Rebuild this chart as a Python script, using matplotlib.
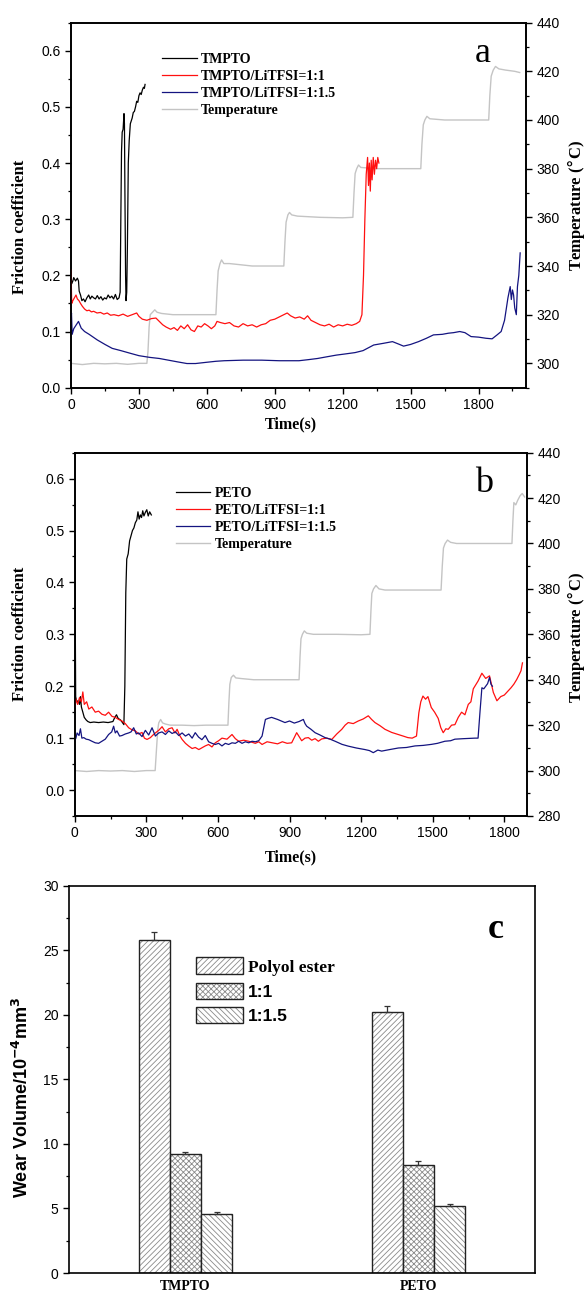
import numpy as np
import matplotlib
matplotlib.use('Agg')
import matplotlib.pyplot as plt
from matplotlib.patches import Patch
from matplotlib.ticker import MultipleLocator

SERIF = 'Liberation Serif'
SANS = 'Liberation Sans'

# ---- panel a: TMPTO series (time s, friction coefficient) ----
a_tmpto_t = [0, 3, 8, 12, 20, 28, 33, 36, 42, 48, 55, 62, 70, 78, 85, 92, 100, 108, 116, 124,
             132, 140, 148, 156, 164, 172, 180, 188, 196, 204, 212, 217, 220, 223, 226, 230,
             234, 236, 238, 241, 243, 246, 249, 253, 257, 262, 266, 270, 275, 280, 285, 290,
             295, 300, 305, 310, 315, 320, 324, 327]
a_tmpto_f = [0.20, 0.185, 0.19, 0.196, 0.19, 0.195, 0.19, 0.172, 0.165, 0.155, 0.158, 0.153,
             0.16, 0.165, 0.158, 0.163, 0.16, 0.158, 0.164, 0.158, 0.162, 0.156, 0.16, 0.158,
             0.165, 0.16, 0.163, 0.158, 0.166, 0.157, 0.16, 0.17, 0.30, 0.42, 0.455, 0.46,
             0.488, 0.47, 0.35, 0.20, 0.155, 0.17, 0.25, 0.40, 0.44, 0.47, 0.475, 0.48, 0.49,
             0.492, 0.50, 0.51, 0.508, 0.52, 0.525, 0.522, 0.53, 0.535, 0.533, 0.54]

a_li11_t = [0, 3, 8, 15, 22, 28, 35, 42, 50, 60, 70, 80, 90, 100, 115, 130, 145, 160, 175, 190,
            210, 230, 250, 270, 290, 300, 315, 335, 355, 375, 390, 405, 420, 440, 455, 470, 485,
            500, 515, 530, 545, 560, 575, 590, 605, 620, 635, 645, 660, 680, 700, 720, 740, 760,
            780, 800, 820, 840, 860, 880, 900, 920, 940, 955, 970, 990, 1010, 1030, 1045, 1060,
            1080, 1100, 1120, 1140, 1160, 1180, 1200, 1220, 1240, 1260, 1275, 1285, 1292, 1298,
            1304, 1310, 1314, 1318, 1322, 1326, 1330, 1335, 1340, 1345, 1350, 1355, 1360]
a_li11_f = [0.21, 0.15, 0.155, 0.16, 0.165, 0.158, 0.155, 0.15, 0.145, 0.14, 0.137, 0.138, 0.135,
            0.136, 0.133, 0.134, 0.131, 0.133, 0.129, 0.13, 0.128, 0.131, 0.127, 0.13, 0.133,
            0.127, 0.122, 0.12, 0.123, 0.124, 0.118, 0.112, 0.108, 0.104, 0.107, 0.102, 0.11,
            0.105, 0.112, 0.103, 0.10, 0.11, 0.108, 0.114, 0.11, 0.105, 0.11, 0.118, 0.116,
            0.114, 0.116, 0.11, 0.108, 0.114, 0.11, 0.112, 0.108, 0.112, 0.114, 0.12, 0.122,
            0.126, 0.13, 0.133, 0.128, 0.124, 0.126, 0.122, 0.128, 0.12, 0.116, 0.112, 0.11,
            0.113, 0.108, 0.112, 0.11, 0.113, 0.111, 0.114, 0.118, 0.13, 0.20, 0.30, 0.38, 0.41,
            0.36, 0.40, 0.35, 0.405, 0.37, 0.41, 0.38, 0.405, 0.39, 0.41, 0.40]

a_li115_t = [0, 2, 5, 12, 20, 33, 45, 60, 80, 116, 150, 182, 220, 264, 300, 347, 390, 430, 470,
             512, 550, 594, 640, 677, 760, 842, 920, 1007, 1050, 1089, 1130, 1172, 1210, 1255,
             1290, 1337, 1380, 1420, 1445, 1469, 1500, 1535, 1570, 1601, 1640, 1667, 1690, 1717,
             1740, 1767, 1800, 1833, 1860, 1882, 1900, 1915, 1930, 1940, 1945, 1950, 1955, 1960,
             1967, 1972, 1978, 1984]
a_li115_f = [0.12, 0.133, 0.095, 0.105, 0.11, 0.118, 0.106, 0.10, 0.095, 0.085, 0.077, 0.07,
             0.066, 0.061, 0.057, 0.054, 0.052, 0.049, 0.046, 0.043, 0.043, 0.045, 0.047, 0.048,
             0.049, 0.049, 0.048, 0.048, 0.05, 0.052, 0.055, 0.058, 0.06, 0.0625, 0.066, 0.076,
             0.079, 0.082, 0.078, 0.074, 0.077, 0.082, 0.088, 0.094, 0.095, 0.097, 0.098, 0.10,
             0.098, 0.091, 0.09, 0.088, 0.087, 0.094, 0.10, 0.12, 0.16, 0.18, 0.157, 0.174,
             0.165, 0.142, 0.13, 0.18, 0.20, 0.24]

a_temp_t = [0, 50, 100, 150, 200, 250, 300, 335, 340, 345, 350, 360, 370, 380, 400, 450, 500,
            550, 600, 640, 645, 650, 658, 665, 675, 700, 750, 800, 850, 900, 940, 945, 950, 958,
            965, 975, 1000, 1100, 1200, 1245, 1250, 1255, 1262, 1270, 1280, 1350, 1450, 1545,
            1550, 1556, 1563, 1572, 1585, 1650, 1750, 1845, 1850, 1856, 1865, 1875, 1890, 1920,
            1960, 1982]
a_temp_T = [300, 299.5, 300, 299.8, 300, 299.6, 300, 300, 305, 315, 320, 321, 322, 321, 320.5,
            320, 320, 320, 320, 320, 330, 338, 341, 342.5, 341, 341, 340.5, 340, 340, 340, 340,
            350, 358, 361, 362, 361, 360.5, 360, 359.8, 360, 370, 378, 380, 381.5, 380.5, 380,
            380, 380, 390, 398, 400, 401.5, 400.5, 400, 400, 400, 410, 418, 420.5, 422, 421,
            420.5, 420, 419.5]

# ---- panel b: PETO series ----
b_peto_t = [0, 2, 4, 8, 14, 20, 24, 28, 34, 40, 48, 55, 65, 80, 100, 120, 140, 160, 168, 175,
            182, 192, 200, 206, 210, 214, 218, 224, 230, 236, 242, 248, 254, 260, 265, 270, 275,
            280, 285, 290, 296, 302, 308, 314, 321]
b_peto_f = [0.49, 0.35, 0.18, 0.17, 0.172, 0.165, 0.18, 0.16, 0.15, 0.14, 0.135, 0.132, 0.13,
            0.131, 0.13, 0.131, 0.13, 0.132, 0.14, 0.145, 0.138, 0.135, 0.13, 0.126, 0.20, 0.38,
            0.445, 0.455, 0.48, 0.49, 0.50, 0.505, 0.515, 0.52, 0.536, 0.522, 0.53, 0.525, 0.538,
            0.528, 0.535, 0.54, 0.528, 0.536, 0.53]

b_li11_t = [0, 5, 12, 20, 28, 34, 40, 50, 59, 72, 86, 100, 114, 128, 142, 156, 170, 184, 198,
            212, 226, 240, 254, 268, 282, 292, 303, 317, 328, 338, 352, 366, 380, 394, 408, 420,
            429, 440, 450, 464, 478, 492, 505, 520, 533, 547, 561, 575, 589, 603, 617, 638, 659,
            673, 687, 708, 729, 743, 757, 771, 785, 806, 827, 850, 870, 890, 909, 930, 951, 965,
            979, 993, 1007, 1021, 1035, 1056, 1077, 1098, 1119, 1133, 1146, 1167, 1188, 1209,
            1230, 1244, 1258, 1279, 1300, 1328, 1356, 1376, 1396, 1414, 1432, 1442, 1450, 1459,
            1470, 1480, 1494, 1508, 1523, 1534, 1544, 1555, 1565, 1579, 1593, 1607, 1621, 1635,
            1649, 1660, 1670, 1690, 1706, 1722, 1738, 1754, 1769, 1785, 1800, 1816, 1828, 1840,
            1852, 1863, 1870, 1876]
b_li11_f = [0.16, 0.175, 0.165, 0.178, 0.17, 0.189, 0.165, 0.17, 0.156, 0.16, 0.15, 0.152,
            0.146, 0.144, 0.15, 0.142, 0.14, 0.136, 0.133, 0.128, 0.12, 0.116, 0.114, 0.108,
            0.111, 0.10, 0.0975, 0.101, 0.106, 0.11, 0.115, 0.122, 0.112, 0.118, 0.12, 0.11,
            0.117, 0.105, 0.0975, 0.09, 0.0846, 0.08, 0.082, 0.078, 0.0813, 0.085, 0.0878, 0.083,
            0.091, 0.095, 0.10, 0.098, 0.107, 0.099, 0.094, 0.096, 0.094, 0.092, 0.09, 0.093,
            0.0878, 0.093, 0.091, 0.089, 0.093, 0.09, 0.091, 0.1105, 0.095, 0.10, 0.101, 0.096,
            0.099, 0.094, 0.0985, 0.1, 0.0975, 0.108, 0.117, 0.125, 0.13, 0.128, 0.133, 0.137,
            0.143, 0.136, 0.13, 0.124, 0.117, 0.111, 0.107, 0.104, 0.101, 0.10, 0.104, 0.149,
            0.17, 0.181, 0.175, 0.18, 0.159, 0.15, 0.138, 0.12, 0.1105, 0.118, 0.117, 0.125,
            0.126, 0.14, 0.15, 0.145, 0.165, 0.17, 0.195, 0.21, 0.225, 0.215, 0.22, 0.188,
            0.172, 0.18, 0.183, 0.191, 0.197, 0.204, 0.213, 0.223, 0.23, 0.245]

b_li115_t = [0, 5, 10, 18, 24, 30, 38, 48, 59, 72, 86, 100, 114, 128, 142, 155, 163, 170, 177,
             188, 198, 212, 226, 236, 247, 258, 268, 282, 296, 310, 324, 338, 352, 366, 380, 394,
             408, 422, 436, 450, 464, 478, 492, 505, 519, 533, 547, 561, 575, 589, 603, 617, 631,
             645, 659, 673, 687, 701, 715, 729, 743, 757, 771, 785, 792, 799, 810, 825, 850, 881,
             900, 920, 940, 958, 965, 972, 990, 1007, 1028, 1049, 1070, 1091, 1120, 1146, 1180,
             1216, 1235, 1251, 1270, 1286, 1320, 1356, 1390, 1426, 1460, 1495, 1520, 1551, 1575,
             1593, 1630, 1677, 1690, 1698, 1706, 1714, 1722, 1730, 1738, 1744, 1750]
b_li115_f = [0.095, 0.1, 0.11, 0.105, 0.118, 0.1, 0.101, 0.098, 0.097, 0.094, 0.091, 0.09,
             0.094, 0.098, 0.107, 0.112, 0.123, 0.11, 0.114, 0.104, 0.105, 0.108, 0.11, 0.112,
             0.12, 0.108, 0.11, 0.103, 0.115, 0.106, 0.12, 0.104, 0.11, 0.112, 0.107, 0.114,
             0.109, 0.112, 0.105, 0.11, 0.104, 0.108, 0.1, 0.1105, 0.102, 0.097, 0.105, 0.093,
             0.09, 0.0878, 0.09, 0.085, 0.09, 0.0878, 0.091, 0.09, 0.094, 0.09, 0.093, 0.091,
             0.094, 0.093, 0.095, 0.104, 0.12, 0.136, 0.138, 0.14, 0.136, 0.13, 0.133, 0.129,
             0.132, 0.136, 0.128, 0.123, 0.117, 0.1105, 0.106, 0.101, 0.098, 0.094, 0.088,
             0.0846, 0.081, 0.078, 0.076, 0.072, 0.077, 0.075, 0.078, 0.081, 0.082, 0.085, 0.086,
             0.088, 0.09, 0.094, 0.095, 0.098, 0.099, 0.1, 0.1, 0.15, 0.197, 0.195, 0.2, 0.205,
             0.217, 0.204, 0.2]

b_temp_t = [0, 50, 100, 150, 200, 250, 300, 337, 343, 348, 352, 360, 368, 380, 400, 450, 500,
            550, 600, 642, 646, 650, 656, 665, 675, 700, 750, 800, 850, 900, 940, 944, 948, 954,
            962, 972, 1000, 1100, 1200, 1237, 1241, 1245, 1252, 1262, 1275, 1300, 1400, 1500,
            1535, 1540, 1545, 1552, 1562, 1575, 1600, 1700, 1800, 1832, 1836, 1840, 1848, 1856,
            1866, 1875, 1885]
b_temp_T = [300, 299.6, 300, 299.8, 300, 299.6, 300, 300, 310, 318, 321, 322.5, 321, 320.5, 320,
            320, 319.8, 320, 320, 320, 330, 338, 341, 342, 340.8, 340.5, 340, 340, 340, 340, 340,
            350, 358, 360, 361.5, 360.5, 360, 360, 359.8, 360, 370, 378, 380, 381.5, 380, 379.5,
            379.5, 379.5, 379.5, 390, 398, 400, 401.5, 400.5, 400, 400, 400, 400, 410, 418, 417,
            419, 421, 422, 420.5]

# ---- panel c: wear volume ----
groups = ['TMPTO', 'PETO']
bar_labels = ['Polyol ester', '1:1', '1:1.5']
wear = [[25.8, 20.2], [9.2, 8.4], [4.6, 5.2]]
wear_err = [[0.65, 0.5], [0.2, 0.25], [0.1, 0.12]]
hatches = ['//////', 'xxxxxx', '\\\\\\\\\\\\']

plt.rcParams['hatch.linewidth'] = 0.6

fig = plt.figure(figsize=(5.86, 12.94), dpi=100)


def style_line_axes(ax, ax2, xlim, ylim, tlim, tticks):
    ax.set_xlim(*xlim)
    ax.set_ylim(*ylim)
    ax2.set_ylim(*tlim)
    ax.xaxis.set_major_locator(MultipleLocator(300))
    ax.xaxis.set_minor_locator(MultipleLocator(150))
    ax.yaxis.set_major_locator(MultipleLocator(0.1))
    ax.yaxis.set_minor_locator(MultipleLocator(0.05))
    ax2.set_yticks(tticks)
    ax2.yaxis.set_minor_locator(MultipleLocator(10))
    for a in (ax, ax2):
        a.tick_params(which='major', length=4, width=1.0, labelsize=10)
        a.tick_params(which='minor', length=2.5, width=0.9)
        for lab in a.get_xticklabels() + a.get_yticklabels():
            lab.set_fontfamily(SANS)
        for s in a.spines.values():
            s.set_linewidth(1.2)
    ax.set_yticklabels([f'{v:.1f}' for v in ax.get_yticks()], fontfamily=SANS, fontsize=10)
    ax.set_ylim(*ylim)
    ax.set_xlabel('Time(s)', fontfamily=SERIF, fontweight='bold', fontsize=11.5)
    ax.set_ylabel('Friction coefficient', fontfamily=SERIF, fontweight='bold', fontsize=12)
    ax2.set_ylabel('Temperature ($\\degree$C)', fontfamily=SERIF, fontweight='bold', fontsize=12)


def draw_panel(rect, series, temp, labels, xlim, ylim, tlim, tticks, letter, leg_xy, label_pos):
    ax = fig.add_axes(rect)
    ax2 = ax.twinx()
    ax.set_zorder(ax2.get_zorder() + 1)
    ax.patch.set_visible(False)
    colors = ['black', '#ff1010', '#141480']
    handles = []
    for (t, f), c, lab in zip(series, colors, labels[:3]):
        h, = ax.plot(t, f, color=c, lw=0.9, label=lab)
        handles.append(h)
    ht, = ax2.plot(temp[0], temp[1], color='#c4c4c4', lw=1.0, label=labels[3])
    handles.append(ht)
    style_line_axes(ax, ax2, xlim, ylim, tlim, tticks)
    ax.legend(handles=handles, loc='upper left', bbox_to_anchor=leg_xy, frameon=False,
              prop={'family': SERIF, 'weight': 'bold', 'size': 10}, handlelength=2.5,
              handletextpad=0.3, labelspacing=0.3, borderpad=0, borderaxespad=0)
    ax.text(0.905, 0.915, letter, transform=ax.transAxes, ha='center', va='center',
            fontfamily=SERIF, fontsize=26)
    ax.yaxis.set_label_coords(label_pos[0], label_pos[1])
    ax2.yaxis.set_label_coords(label_pos[2], label_pos[3])
    ax.xaxis.set_label_coords(label_pos[4], label_pos[5])
    return ax


draw_panel([0.1212, 0.7004, 0.7765, 0.2821],
           [(a_tmpto_t, a_tmpto_f), (a_li11_t, a_li11_f), (a_li115_t, a_li115_f)],
           (a_temp_t, a_temp_T),
           ['TMPTO', 'TMPTO/LiTFSI=1:1', 'TMPTO/LiTFSI=1:1.5', 'Temperature'],
           (0, 2010), (0, 0.65), (290, 440), list(range(300, 441, 20)), 'a',
           (0.2, 0.918), (-0.095, 0.44, 1.086, 0.5, 0.4835, -0.078))

draw_panel([0.1275, 0.3694, 0.7718, 0.2808],
           [(b_peto_t, b_peto_f), (b_li11_t, b_li11_f), (b_li115_t, b_li115_f)],
           (b_temp_t, b_temp_T),
           ['PETO', 'PETO/LiTFSI=1:1', 'PETO/LiTFSI=1:1.5', 'Temperature'],
           (0, 1895), (-0.05, 0.65), (280, 440), list(range(280, 441, 20)), 'b',
           (0.223, 0.906), (-0.103, 0.5, 1.084, 0.49, 0.479, -0.091))

# ---- panel c ----
axc = fig.add_axes([0.1177, 0.0162, 0.7952, 0.2993])
x = np.arange(1, len(groups) + 1)
w = 0.134
leg_handles = []
for i, (vals, errs, hatch, lab) in enumerate(zip(wear, wear_err, hatches, bar_labels)):
    pos = x + (i - 1) * w
    axc.bar(pos, vals, w, color='white', edgecolor='#8a8a8a', hatch=hatch, linewidth=0)
    axc.bar(pos, vals, w, fill=False, edgecolor='#222222', linewidth=1.0)
    axc.errorbar(pos, vals, yerr=[np.zeros(len(errs)), errs], fmt='none', ecolor='#333333',
                 elinewidth=0.9, capsize=2.5, capthick=0.9)
    leg_handles.append((Patch(facecolor='white', edgecolor='#8a8a8a', hatch=hatch, linewidth=0),
                        Patch(fill=False, edgecolor='#222222', linewidth=1.0)))
axc.set_xlim(0.5, 2.5)
axc.set_ylim(0, 30)
axc.set_xticks(x)
axc.set_xticklabels(groups, fontfamily=SERIF, fontweight='bold', fontsize=10)
axc.tick_params(axis='x', length=0, pad=5)
axc.yaxis.set_major_locator(MultipleLocator(5))
axc.yaxis.set_minor_locator(MultipleLocator(2.5))
axc.tick_params(axis='y', which='major', length=4, width=1.0, labelsize=10)
axc.tick_params(axis='y', which='minor', length=2.5, width=0.9)
for lab in axc.get_yticklabels():
    lab.set_fontfamily(SANS)
for s in axc.spines.values():
    s.set_linewidth(1.2)
axc.set_ylabel('Wear Volume/10$^{\\mathbf{-4}}$mm$^{\\mathbf{3}}$', fontfamily=SANS,
               fontweight='bold', fontsize=13)
axc.yaxis.set_label_coords(-0.08, 0.453)
leg = axc.legend(leg_handles, bar_labels, loc='upper left', bbox_to_anchor=(0.273, 0.815),
                 frameon=False, prop={'family': SERIF, 'weight': 'bold', 'size': 12.5},
                 handlelength=2.7, handleheight=1.1, handletextpad=0.3, labelspacing=0.4,
                 borderpad=0, borderaxespad=0)
for t in leg.get_texts()[1:]:
    t.set_fontfamily(SANS)
axc.text(0.915, 0.888, 'c', transform=axc.transAxes, ha='center', va='center',
         fontfamily=SERIF, fontsize=26, fontweight='bold')

plt.savefig('out.png', dpi=100)
plt.close()
